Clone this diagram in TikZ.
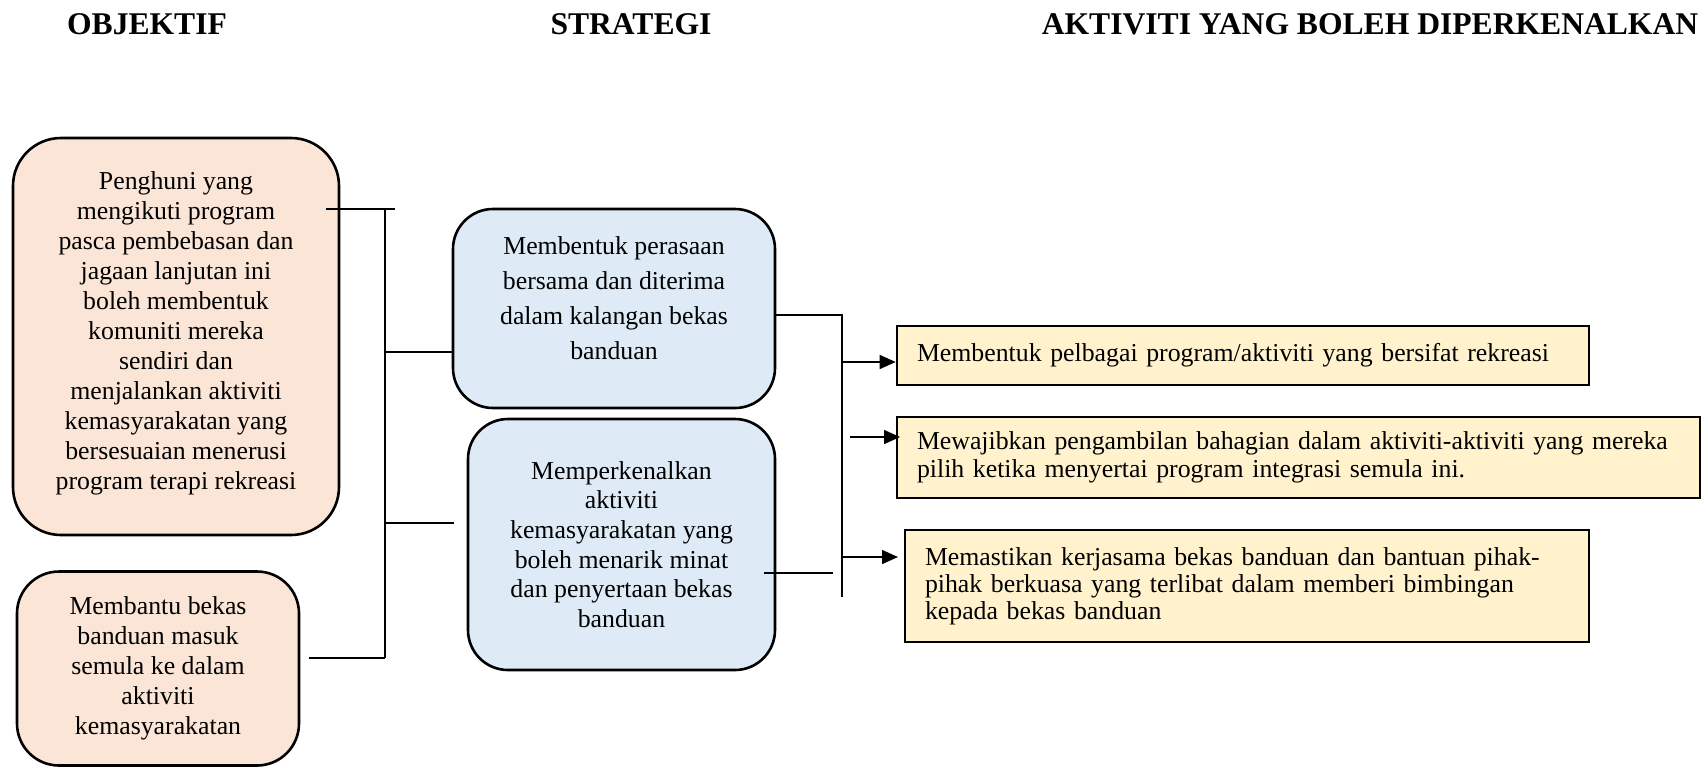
\documentclass[tikz,border=0pt]{standalone}
\usepackage{fontspec}
\setmainfont{Liberation Serif}
\usetikzlibrary{arrows.meta}
\definecolor{objfill}{HTML}{FBE5D6}
\definecolor{strfill}{HTML}{DEEBF7}
\definecolor{actfill}{HTML}{FFF2CC}
\begin{document}
\begin{tikzpicture}[x=0.5pt,y=-0.5pt,
  every node/.style={font=\fontsize{12.9pt}{15pt}\selectfont},
  header/.style={font=\fontsize{15.8pt}{18pt}\selectfont\bfseries, inner sep=0pt},
  objbox/.style={draw=black, line width=1.3pt, fill=objfill, align=center, inner sep=0pt},
  strbox/.style={draw=black, line width=1.3pt, fill=strfill, align=center, inner sep=0pt, rounded corners=20pt},
  actbox/.style={draw=black, line width=1.3pt, fill=actfill, align=left, inner xsep=10pt, inner ysep=0pt},
  bus/.style={draw=black, line width=0.9pt},
  arr/.style={draw=black, line width=0.7pt, -{Triangle[length=8pt,width=7pt]}}
]
\useasboundingbox (0,0) rectangle (1702,767);

% headers
\node[header] (h1) at (147,24) {OBJEKTIF};
\node[header] (h2) at (631,24) {STRATEGI};
\node[header] (h3) at (1370,24) {AKTIVITI YANG BOLEH DIPERKENALKAN};

% objectives
\node[objbox, rounded corners=24pt, minimum width=163pt, minimum height=198.5pt] (o1) at (176,336.5)
  {Penghuni yang\\ mengikuti program\\ pasca pembebasan dan\\ jagaan lanjutan ini\\ boleh membentuk\\ komuniti mereka\\ sendiri dan\\ menjalankan aktiviti\\ kemasyarakatan yang\\ bersesuaian menerusi\\ program terapi rekreasi\rule[-5.5pt]{0pt}{0pt}};
\node[objbox, rounded corners=21pt, minimum width=141pt, minimum height=97pt] (o2) at (158,668.5)
  {Membantu bekas\\ banduan masuk\\ semula ke dalam\\ aktiviti\\ kemasyarakatan};

% strategies
\node[strbox, minimum width=161pt, minimum height=99.5pt, font=\fontsize{12.9pt}{17.5pt}\selectfont] (s1) at (614,308.5)
  {Membentuk perasaan\\ bersama dan diterima\\ dalam kalangan bekas\\ banduan\rule[-10pt]{0pt}{0pt}};
\node[strbox, minimum width=153.5pt, minimum height=125.5pt, font=\fontsize{12.9pt}{14.8pt}\selectfont] (s2) at (621.5,544.5)
  {Memperkenalkan\\ aktiviti\\ kemasyarakatan yang\\ boleh menarik minat\\ dan penyertaan bekas\\ banduan};

% activities
\node[actbox, text width=326pt, minimum height=29.5pt] (a1) at (1243,355.5)
  {Membentuk pelbagai program/aktiviti yang bersifat rekreasi};
\node[actbox, text width=381.5pt, minimum height=40.5pt, font=\fontsize{12.9pt}{14pt}\selectfont] (a2) at (1298.5,457.5)
  {Mewajibkan pengambilan bahagian dalam aktiviti-aktiviti yang mereka\\ pilih ketika menyertai program integrasi semula ini.};
\node[actbox, text width=322pt, minimum height=56pt, font=\fontsize{12.9pt}{13.5pt}\selectfont] (a3) at (1247,586)
  {Memastikan kerjasama bekas banduan dan bantuan pihak-\\ pihak berkuasa yang terlibat dalam memberi bimbingan\\ kepada bekas banduan};

% left bus
\coordinate (l0) at (326,209);
\coordinate (l0e) at (395,209);
\coordinate (lt) at (385,209);
\coordinate (lb) at (385,658);
\coordinate (l1) at (385,352);
\coordinate (l2) at (385,523);
\coordinate (l2e) at (454,523);
\coordinate (l3) at (309,658);
\draw[bus] (l0) -- (l0e);
\draw[bus] (lt) -- (lb);
\draw[bus] (l1) -- (l1 -| s1.west);
\draw[bus] (l2) -- (l2e);
\draw[bus] (l3) -- (lb);

% right bus
\coordinate (r0) at (775,315);
\coordinate (rt) at (842,315);
\coordinate (rb) at (842,597);
\coordinate (r1) at (842,362);
\coordinate (r2) at (850,437);
\coordinate (r2e) at (900,437);
\coordinate (r3) at (842,557);
\coordinate (r3e) at (898,557);
\coordinate (r4) at (764,573);
\coordinate (r4e) at (833,573);
\draw[bus] (r0) -- (rt) -- (rb);
\draw[bus] (r4) -- (r4e);
\draw[arr] (r1) -- (r1 -| a1.west);
\draw[arr] (r2) -- (r2e);
\draw[arr] (r3) -- (r3e);
\end{tikzpicture}
\end{document}
